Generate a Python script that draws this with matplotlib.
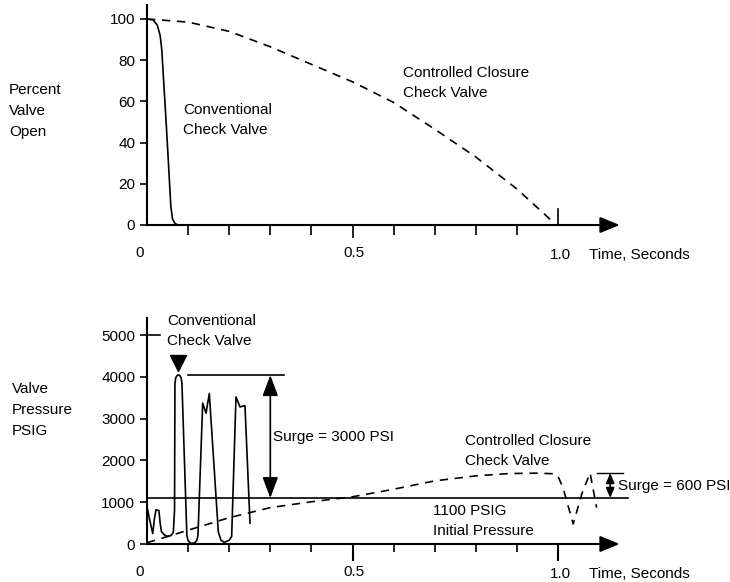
import matplotlib.pyplot as plt

plt.rcParams['font.family'] = ['Liberation Sans', 'DejaVu Sans']

# Top: percent valve open vs time (s)
conv_open_t = [0, 0.015, 0.025, 0.032, 0.036, 0.048, 0.058, 0.062, 0.068, 0.075]
conv_open = [100, 99.5, 97, 92, 85, 45, 9, 3, 0.8, 0]
ctrl_open_t = [0, 0.1, 0.2, 0.3, 0.4, 0.5, 0.6, 0.7, 0.8, 0.9, 0.985]
ctrl_open = [100, 98.5, 94, 86.5, 78, 69.5, 59.5, 46.5, 33, 17.5, 2]

# Bottom: valve pressure (PSIG) vs time (s)
conv_p_t = [0, 0.006, 0.014, 0.018, 0.022, 0.029, 0.032, 0.035, 0.042, 0.05, 0.058, 0.064,
            0.067, 0.068, 0.070, 0.074, 0.079, 0.083, 0.085, 0.097, 0.100, 0.106, 0.115, 0.121,
            0.124, 0.1355, 0.1436, 0.1516, 0.1735, 0.180, 0.188, 0.200, 0.206,
            0.2165, 0.2263, 0.2384, 0.2506]
conv_p = [900, 600, 250, 600, 820, 800, 500, 300, 220, 180, 200, 280,
          800, 3850, 3980, 4040, 4040, 3980, 3850, 200, 80, 20, 20, 80,
          200, 3370, 3130, 3600, 290, 90, 40, 90, 180,
          3520, 3280, 3310, 500]
ctrl_p_t = [0, 0.1, 0.2, 0.3, 0.4, 0.5, 0.6, 0.7, 0.8, 0.88, 0.95, 0.99, 1.0, 1.012,
            1.037, 1.058, 1.078, 1.094]
ctrl_p = [30, 330, 630, 870, 1010, 1130, 1310, 1510, 1630, 1685, 1695, 1680, 1620, 1350,
          480, 1200, 1700, 870]
initial_p = 1100
conv_peak = 4040
ctrl_peak = 1700

fs = 11
lsp = 1.6
lw_ax = 1.5
lw = 1.2

fig = plt.figure(figsize=(7.3, 5.82), dpi=100)
ax1 = fig.add_axes([147 / 730, (582 - 225) / 582, 1.15 * 411 / 730, 107 * 2.06 / 582])
ax2 = fig.add_axes([147 / 730, (582 - 544) / 582, 1.15 * 411 / 730, 5400 * 0.0418 / 582])

for ax in (ax1, ax2):
    ax.set_xlim(0, 1.15)
    for s in ('top', 'right', 'bottom'):
        ax.spines[s].set_visible(False)
    ax.spines['left'].set_linewidth(lw_ax)
    ax.annotate('', xy=(1.0, 0), xycoords='axes fraction', xytext=(0, 0),
                arrowprops=dict(arrowstyle='-|>,head_length=0.85,head_width=0.35',
                                mutation_scale=14, lw=lw_ax, color='k',
                                shrinkA=0, shrinkB=0))
    ax.set_xticks([0.1, 0.2, 0.3, 0.4, 0.6, 0.7, 0.8, 0.9], minor=True)
    ax.tick_params(axis='y', direction='out', length=5, width=1.2, labelsize=fs, pad=3.5)
    ax.tick_params(axis='x', which='both', labelbottom=False, width=1.2)

# top panel
ax1.set_ylim(0, 107)
ax1.set_yticks([0, 20, 40, 60, 80, 100])
ax1.set_xticks([0.5])
ax1.tick_params(axis='x', which='minor', length=7)
ax1.tick_params(axis='x', which='major', length=9.5)
ax1.axvline(1.0, 0, 16 / 220.4, color='k', lw=1.2)
ax1.plot(conv_open_t, conv_open, color='k', lw=lw, clip_on=False)
ax1.plot(ctrl_open_t, ctrl_open, color='k', lw=lw, ls=(0, (5, 4)), clip_on=False)

ax1.text(0.0876, 51, 'Conventional\nCheck Valve', fontsize=fs, va='center', ha='left',
         linespacing=lsp)
ax1.text(0.623, 69, 'Controlled Closure\nCheck Valve', fontsize=fs, va='center', ha='left',
         linespacing=lsp)
ax1.text(-0.017, -13.6, '0', fontsize=fs, ha='center', va='center')
ax1.text(0.504, -13.6, '0.5', fontsize=fs, ha='center', va='center')
ax1.text(1.007, -14.6, '1.0', fontsize=fs, ha='center', va='center')
ax1.text(1.075, -14.6, 'Time, Seconds', fontsize=fs, ha='left', va='center')

# bottom panel
ax2.set_ylim(0, 5400)
ax2.set_yticks([0, 1000, 2000, 3000, 4000, 5000])
ax2.set_xticks([0.5, 1.0])
ax2.tick_params(axis='x', which='minor', length=6)
ax2.tick_params(axis='x', which='major', length=12, width=1.5)
ax2.plot([0, 13 / 411], [5000, 5000], color='k', lw=1.2, clip_on=False)

ax2.plot(conv_p_t, conv_p, color='k', lw=lw, clip_on=False)
ax2.plot(ctrl_p_t, ctrl_p, color='k', lw=lw, ls=(0, (5, 4)), clip_on=False)
ax2.plot([0, 1.17], [initial_p, initial_p], color='k', lw=lw, clip_on=False)

# conventional surge marker
ax2.plot(0.076, 4330, marker='v', color='k', markersize=11, clip_on=False)
ax2.plot([0.1, 0.333], [conv_peak, conv_peak], color='k', lw=lw)
ax2.annotate('', xy=(0.3, initial_p), xytext=(0.3, conv_peak),
             arrowprops=dict(arrowstyle='<|-|>,head_length=0.8,head_width=0.3',
                             mutation_scale=16, lw=1.2, color='k', shrinkA=0, shrinkB=0))
ax2.text(0.307, 2560, 'Surge = 3000 PSI', fontsize=fs, va='center', ha='left')

# controlled surge marker
ax2.plot([1.095, 1.158], [ctrl_peak, ctrl_peak], color='k', lw=1.0, clip_on=False)
ax2.annotate('', xy=(1.127, initial_p), xytext=(1.127, ctrl_peak),
             arrowprops=dict(arrowstyle='<|-|>,head_length=0.6,head_width=0.25',
                             mutation_scale=10, lw=1.2, color='k', shrinkA=0, shrinkB=0),
             annotation_clip=False)
ax2.text(1.146, 1390, 'Surge = 600 PSI', fontsize=fs, va='center', ha='left')

ax2.text(0.0487, 5096, 'Conventional\nCheck Valve', fontsize=fs, va='center', ha='left',
         linespacing=lsp)
ax2.text(0.774, 2225, 'Controlled Closure\nCheck Valve', fontsize=fs, va='center', ha='left',
         linespacing=lsp)
ax2.text(0.696, 550, '1100 PSIG\nInitial Pressure', fontsize=fs, va='center', ha='left',
         linespacing=lsp)
ax2.text(-0.017, -670, '0', fontsize=fs, ha='center', va='center')
ax2.text(0.504, -670, '0.5', fontsize=fs, ha='center', va='center')
ax2.text(1.007, -718, '1.0', fontsize=fs, ha='center', va='center')
ax2.text(1.075, -718, 'Time, Seconds', fontsize=fs, ha='left', va='center')

# side labels
fig.text(9 / 730, 1 - 111 / 582, 'Percent\nValve\nOpen', fontsize=fs, va='center', ha='left',
         linespacing=lsp)
fig.text(12 / 730, 1 - 410 / 582, 'Valve\nPressure\nPSIG', fontsize=fs, va='center', ha='left',
         linespacing=lsp)

fig.savefig('out.png', dpi=100)
